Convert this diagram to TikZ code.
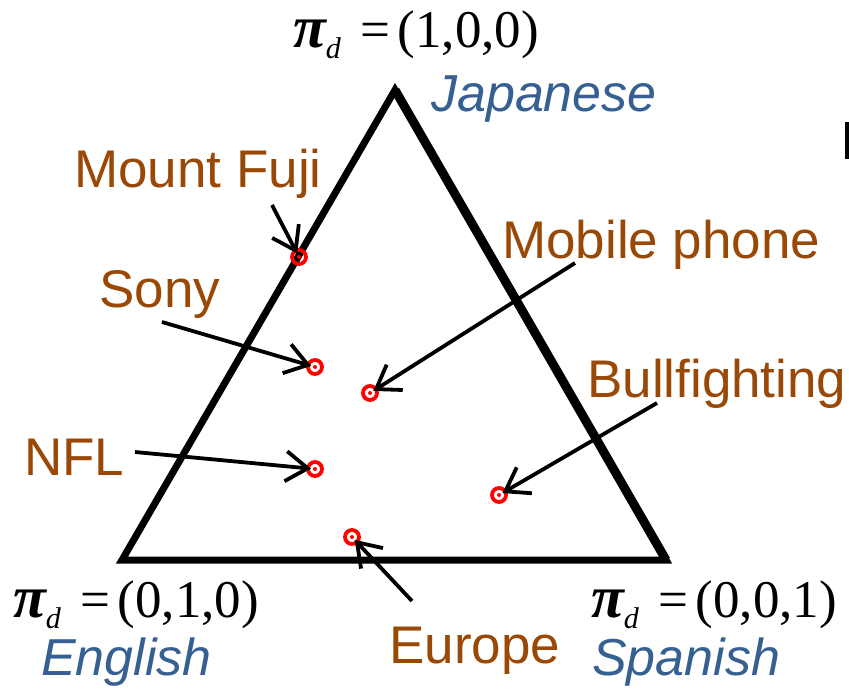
\documentclass[tikz,border=0pt]{standalone}
\usepackage{fontspec}
\setmainfont{Liberation Sans}
\newfontfamily\timesfont{Liberation Serif}
\usetikzlibrary{arrows.meta, positioning}
\definecolor{topicbrown}{RGB}{153, 72, 6}
\definecolor{langblue}{RGB}{54, 96, 146}
\definecolor{dotred}{RGB}{255, 0, 0}
\newcommand{\pivec}[1]{{\timesfont{\fontsize{60}{60}\selectfont\bfseries\itshape π}\raisebox{-11pt}{\fontsize{30}{30}\selectfont\itshape d}\kern20pt=\kern7pt(#1)}}

\begin{document}
\begin{tikzpicture}[x=1pt, y=-1pt,
    topiclabel/.style={topicbrown, font=\fontsize{53}{53}\selectfont, anchor=base west, inner sep=0pt},
    langlabel/.style={langblue, font=\fontsize{52}{52}\selectfont\itshape, anchor=base west, inner sep=0pt},
    vertexlabel/.style={font=\fontsize{53}{53}\selectfont, anchor=base west, inner sep=0pt},
    topicdot/.style={circle, draw=dotred, line width=3.8pt, minimum size=14pt, inner sep=0pt,
      path picture={\fill[dotred] (path picture bounding box.center) circle (2pt);}},
    topicarrow/.style={-{Straight Barb[length=22pt, width=30pt]}, line width=3.8pt, shorten >=-5pt}]
  \fill[white] (0,0) rectangle (849,698);
  \useasboundingbox (0,0) rectangle (849,698);

  % simplex of the three languages
  \draw[line width=7pt, line join=miter] (122,560) -- (395,90) -- (666,560) -- cycle;
  \draw[line width=9pt] (395,90) -- (666,560);
  \node[vertexlabel] (vtop)   at (293,48)  {\pivec{1,0,0}};
  \node[vertexlabel] (vleft)  at (13,617)  {\pivec{0,1,0}};
  \node[vertexlabel] (vright) at (591,617) {\pivec{0,0,1}};
  \node[langlabel] (japanese) at (431,112) {Japanese};
  \node[langlabel] (english)  at (41,675)  {English};
  \node[langlabel] (spanish)  at (592,675) {Spanish};

  % topics placed inside
  \node[topicdot] (pfuji)   at (299,257) {};
  \node[topicdot] (psony)   at (315,367) {};
  \node[topicdot] (pphone)  at (370,393) {};
  \node[topicdot] (pnfl)    at (315,469) {};
  \node[topicdot] (pbull)   at (499,495) {};
  \node[topicdot] (peurope) at (352,537) {};

  \node[topiclabel] (lfuji)   at (74,188)  {Mount Fuji};
  \node[topiclabel] (lsony)   at (99,307)  {Sony};
  \node[topiclabel] (lphone)  at (502,258) {Mobile phone};
  \node[topiclabel] (lnfl)    at (24,475)  {NFL};
  \node[topiclabel] (lbull)   at (587,397) {Bullfighting};
  \node[topiclabel] (leurope) at (389,663) {Europe};

  \coordinate (tfuji)   at (272,205);
  \coordinate (tsony)   at (162,322);
  \coordinate (tphone)  at (575,263);
  \coordinate (tnfl)    at (135,452);
  \coordinate (tbull)   at (657,403);
  \coordinate (teurope) at (412,601);
  \draw[topicarrow] (tfuji) -- (pfuji);
  \draw[topicarrow] (tsony) -- (psony);
  \draw[topicarrow] (tphone) -- (pphone);
  \draw[topicarrow] (tnfl) -- (pnfl);
  \draw[topicarrow] (tbull) -- (pbull);
  \draw[topicarrow] (teurope) -- (peurope);

  \fill (845,122) rectangle (849,159);
\end{tikzpicture}
\end{document}
